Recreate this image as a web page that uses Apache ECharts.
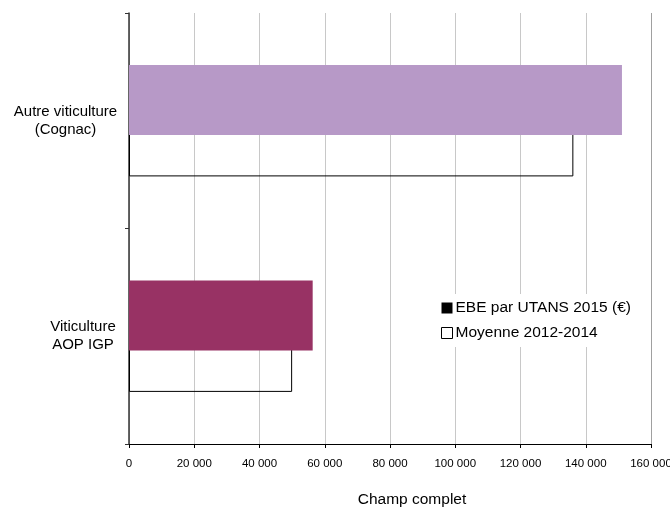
<!DOCTYPE html>
<html>
<head>
<meta charset="utf-8">
<script src="https://cdn.jsdelivr.net/npm/echarts@6/dist/echarts.min.js"></script>
<style>
    html, body { margin: 0; padding: 0; background: #fff; }
    #chart { width: 670px; height: 509px; }
</style>
</head>
<body>
<div id="chart"></div>
<script>
// categories from bottom to top
const categories = ['Viticulture\nAOP IGP', 'Autre viticulture\n(Cognac)'];
const ebe2015 = [56300, 151100];
const moyenne = [50000, 136200];
const barColors = ['#983264', '#b799c7'];
const seriesNames = ['EBE par UTANS 2015 (€)', 'Moyenne 2012-2014'];

const fontFamily = '"Liberation Sans", Arial, sans-serif';

// "20000" -> "20 000"
const fmtNumber = (v) => String(v).replace(/\B(?=(\d{3})+(?!\d))/g, ' ');

const myChart = echarts.init(document.getElementById('chart'));

// la dernière ligne (160 000) sert de bord droit, un peu plus foncée
const gridColors = ['#c8c8c8', '#c8c8c8', '#c8c8c8', '#c8c8c8', '#c8c8c8', '#c8c8c8', '#c8c8c8', '#c8c8c8', '#a0a0a0'];

const option = {
    animation: false,
    textStyle: { fontFamily: fontFamily },
    grid: {
        left: 129,
        right: 19,
        top: 13,
        bottom: 65,
        containLabel: false,
        outerBoundsMode: 'none'
    },
    legend: {
        orient: 'vertical',
        left: 437,
        top: 294,
        itemWidth: 11,
        itemHeight: 11,
        itemGap: 7,
        padding: [5, 4],
        backgroundColor: '#fff',
        textStyle: {
            fontSize: 15.5,
            lineHeight: 18,
            color: '#000',
            padding: [0, 0, 0, -2]
        },
        data: [
            { name: seriesNames[0], icon: 'rect', itemStyle: { color: '#000', borderWidth: 0 } },
            { name: seriesNames[1], icon: 'rect', itemStyle: { color: '#fff', borderColor: '#000', borderWidth: 1 } }
        ]
    },
    xAxis: {
        type: 'value',
        min: 0,
        max: 160000,
        interval: 20000,
        name: 'Champ complet',
        nameLocation: 'middle',
        nameGap: 48,
        nameTextStyle: { fontSize: 15.5, color: '#000', padding: [0, 0, 0, 44] },
        axisLine: { show: true, lineStyle: { color: '#000', width: 1 } },
        axisTick: { show: true, length: 4, lineStyle: { color: '#000' } },
        axisLabel: {
            color: '#000',
            fontSize: 11.5,
            margin: 14,
            formatter: fmtNumber
        },
        splitLine: { show: true, lineStyle: { color: gridColors, width: 1 } }
    },
    yAxis: {
        type: 'category',
        data: categories,
        axisLine: { show: true, lineStyle: { color: '#333', width: 1.5 } },
        axisTick: { show: true, length: 4, lineStyle: { color: '#333' } },
        axisLabel: {
            margin: 11,
            formatter: (val) => {
                const key = val.indexOf('Cognac') >= 0 ? 'a' : 'b';
                return val.split('\n').map(s => '{' + key + '|' + s + '}').join('\n');
            },
            rich: {
                a: { width: 105, align: 'center', fontSize: 15, lineHeight: 18, color: '#000' },
                b: { width: 70, align: 'center', fontSize: 15, lineHeight: 18, color: '#000' }
            }
        },
        splitLine: { show: false }
    },
    series: [
        {
            name: seriesNames[0],
            type: 'bar',
            z: 3,
            barWidth: 70,
            barGap: '-41%',
            itemStyle: { color: '#000' },
            data: ebe2015.map((v, i) => ({ value: v, itemStyle: { color: barColors[i] } }))
        },
        {
            name: seriesNames[1],
            type: 'bar',
            z: 2,
            barWidth: 70,
            barGap: '-41%',
            itemStyle: { color: 'transparent', borderColor: '#000', borderWidth: 1 },
            data: moyenne
        }
    ]
};

myChart.setOption(option);
</script>
</body>
</html>
